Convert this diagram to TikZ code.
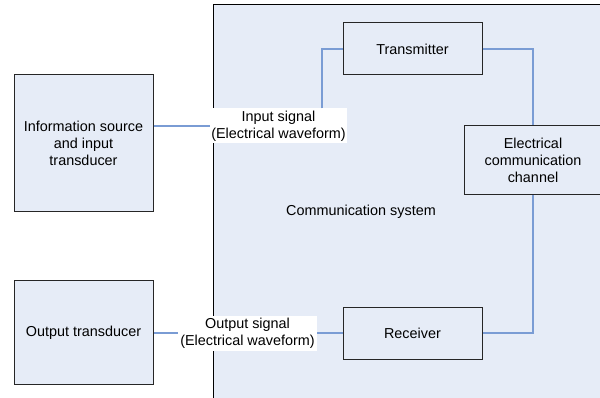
\documentclass[tikz,border=0pt]{standalone}
\usepackage{fontspec}
\setmainfont{Liberation Sans}
\definecolor{panelfill}{RGB}{230,236,247}
\definecolor{wireblue}{RGB}{122,156,212}
\tikzset{
	block/.style={draw=black!85, fill=panelfill, line width=1pt, align=center, inner sep=0pt, minimum width=139pt},
	tag/.style={fill=white, align=center, inner sep=0pt, minimum width=137pt, minimum height=35pt},
	wire/.style={draw=wireblue, line width=1.2pt}
}

\begin{document}
\begin{tikzpicture}[x=1pt, y=-1pt, font=\fontsize{14.4}{17}\selectfont]
	\newcommand{\BOXH}{52}
	\clip (0,0) rectangle (600,398);
	\fill[panelfill] (213,5) rectangle (700,500);
	\draw[line width=1pt] (213,500) -- (213,5) -- (700,5);
	\node[block, minimum height=137pt](src) at (83.5,143.5){Information source\\and input\\transducer};
	\node[block, minimum height=103pt](out) at (83.5,332.5){Output transducer};
	\node[block, minimum height=\BOXH pt](tx) at (412.5,49){Transmitter};
	\node[block, minimum height=\BOXH pt](rx) at (412.5,333){Receiver};
	\node[block, minimum width=138pt, minimum height=69pt](chan) at (533,160.5){Electrical\\communication\\channel};
	\node(sys) at (361,212){Communication system};
	\node[tag](inlbl) at (278.5,126){Input signal\\(Electrical waveform)};
	\node[tag, minimum width=139pt](outlbl) at (247.5,333){Output signal\\(Electrical waveform)};
	\draw[wire] (inlbl.west -| src.east) -- (inlbl.west);
	\draw[wire] ([xshift=43.5pt]inlbl.north) |- (tx.west);
	\draw[wire] (tx.east) -| (chan.north);
	\draw[wire] (chan.south) |- (rx.east);
	\draw[wire] (rx.west) -- (rx.west -| outlbl.east);
	\draw[wire] (outlbl.west) -- (outlbl.west -| out.east);
\end{tikzpicture}
\end{document}
